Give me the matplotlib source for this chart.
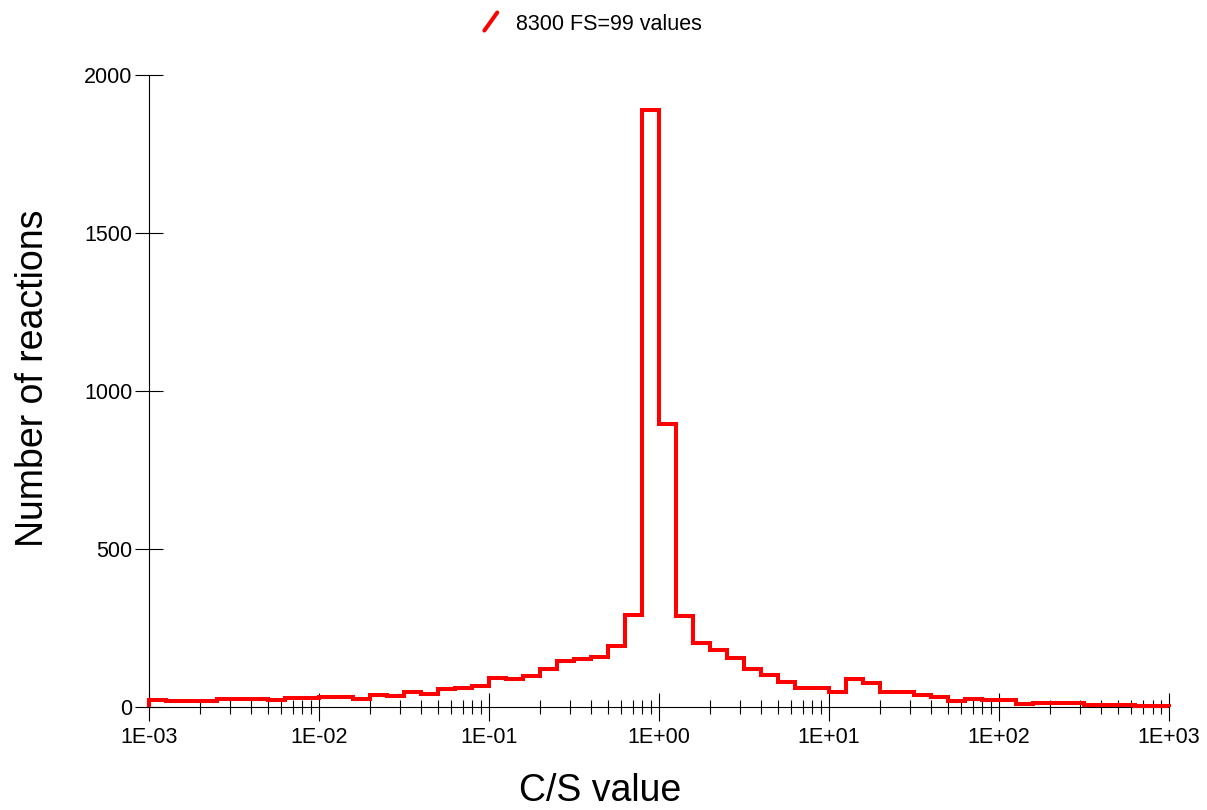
import numpy as np
import matplotlib
matplotlib.use("Agg")
import matplotlib.pyplot as plt
from matplotlib.lines import Line2D
from matplotlib.legend_handler import HandlerBase
from matplotlib.ticker import LogLocator, FuncFormatter, NullFormatter

plt.rcParams['font.family'] = ['Liberation Sans', 'DejaVu Sans']

# log bins, 10 per decade from 1E-03 to 1E+03
bin_edges = 10.0 ** np.linspace(-3, 3, 61)

counts = [
    # 1E-03 .. 1E-02
    23, 19, 20, 19, 27, 27, 26, 24, 28, 28,
    # 1E-02 .. 1E-01
    33, 33, 26, 40, 37, 48, 43, 58, 60, 67,
    # 1E-01 .. 1E+00
    92, 91, 99, 121, 145, 154, 159, 193, 293, 1890,
    # 1E+00 .. 1E+01
    898, 288, 205, 182, 156, 122, 103, 80, 60, 60,
    # 1E+01 .. 1E+02
    49, 90, 76, 48, 48, 39, 31, 20, 27, 22,
    # 1E+02 .. 1E+03
    22, 11, 13, 13, 15, 6, 7, 6, 4, 4,
]

legend_label = "8300 FS=99 values"
y_ticks = [0, 500, 1000, 1500, 2000]


class SlashHandler(HandlerBase):
    def create_artists(self, legend, orig_handle, xdescent, ydescent,
                       width, height, fontsize, trans):
        x0 = -xdescent + 0.25 * width
        x1 = -xdescent + 0.85 * width
        y0 = -ydescent - 0.05 * height
        y1 = -ydescent + 1.15 * height
        ln = Line2D([x0, x1], [y0, y1], color=orig_handle.get_color(),
                    lw=orig_handle.get_linewidth(), solid_capstyle='round',
                    transform=trans)
        return [ln]


fig = plt.figure(figsize=(12.07, 8.10), dpi=100)
ax = fig.add_axes([0.1234, 0.1268, 0.8451, 0.7802])

ax.stairs(counts, bin_edges, baseline=0, color='#ff0000', lw=2.9,
          clip_on=False, zorder=3)

ax.set_xscale('log')
ax.set_xlim(1e-3, 1e3)
ax.set_ylim(0, 2000)

ax.spines['top'].set_visible(False)
ax.spines['right'].set_visible(False)
for s in ('left', 'bottom'):
    ax.spines[s].set_linewidth(0.8)

ax.xaxis.set_major_locator(LogLocator(base=10, numticks=10))
ax.xaxis.set_minor_locator(LogLocator(base=10, subs=np.arange(2, 10), numticks=100))
ax.xaxis.set_major_formatter(FuncFormatter(lambda v, p: "1E%+03d" % int(round(np.log10(v)))))
ax.xaxis.set_minor_formatter(NullFormatter())
ax.set_yticks(y_ticks)

ax.tick_params(axis='both', which='major', direction='inout', length=19.5,
               width=0.8, labelsize=15.5, color='black')
ax.tick_params(axis='x', which='major', pad=4.5)
ax.tick_params(axis='y', which='major', pad=2)
ax.tick_params(axis='x', which='minor', direction='inout', length=10, width=0.8)

ax.set_xlabel("C/S value", fontsize=27)
ax.set_ylabel("Number of reactions", fontsize=27)
ax.xaxis.set_label_coords(0.442, -0.104)
ax.yaxis.set_label_coords(-0.096, 0.521)

handle = Line2D([], [], color='#ff0000', lw=2.9)
fig.legend([handle], [legend_label], handler_map={Line2D: SlashHandler()},
           loc='center', bbox_to_anchor=(0.489, 0.970), frameon=False,
           fontsize=15.5, handlelength=1.0, handletextpad=0.7)

fig.savefig("out.png", dpi=100)
